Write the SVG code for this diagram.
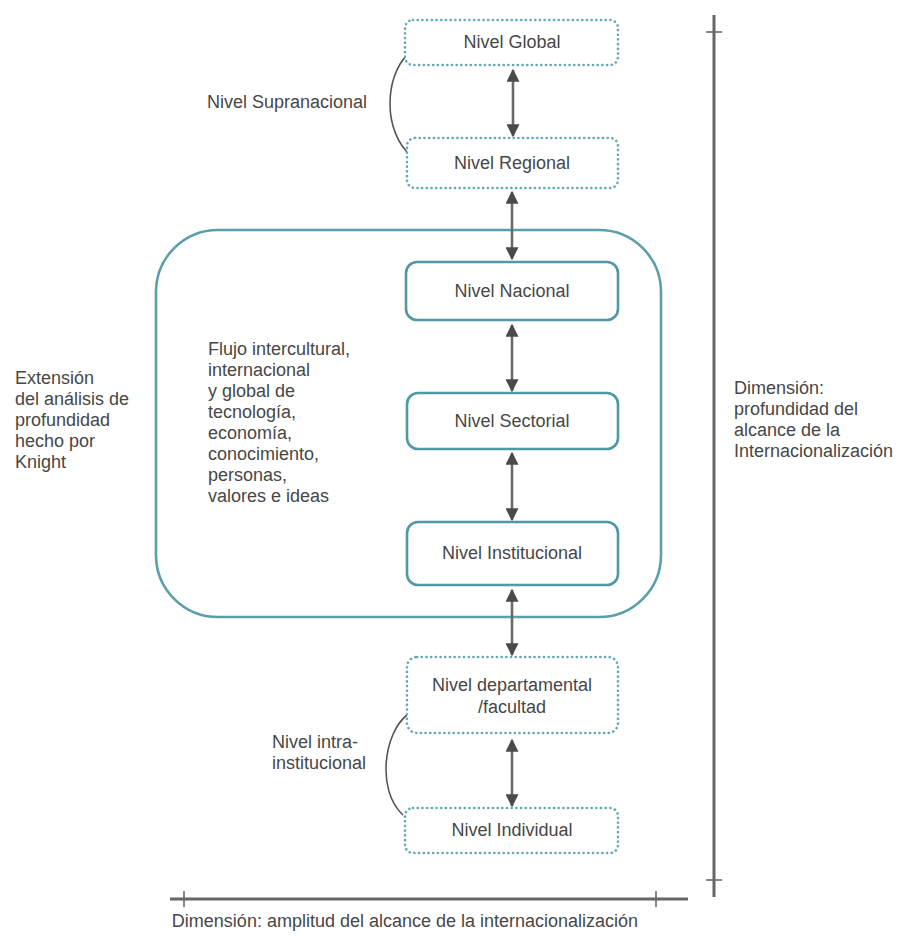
<svg xmlns="http://www.w3.org/2000/svg" width="901" height="936" viewBox="0 0 901 936">
<defs>
<marker id="ah" viewBox="0 0 10 10" refX="9" refY="5" markerUnits="userSpaceOnUse" markerWidth="13" markerHeight="13" orient="auto-start-reverse">
<path d="M0,0 L10,5 L0,10 z" fill="#4a4a4a"/>
</marker>
<style>
text{font-family:"Liberation Sans",Arial,sans-serif;font-size:18px;fill:#474747}
.c{text-anchor:middle;dominant-baseline:central}
.l{dominant-baseline:central}
.dot{fill:#fff;stroke:#62a9b3;stroke-width:2.6;stroke-dasharray:0.1 4.6;stroke-linecap:round}
.sol{fill:#fff;stroke:#4f98a5;stroke-width:2.6}
.arr{stroke:#6a6a6a;stroke-width:2.6;fill:none;marker-start:url(#ah);marker-end:url(#ah)}
.brace{stroke:#555;stroke-width:1.6;fill:none}
.axis{stroke:#666;stroke-width:3;fill:none}
.tick{stroke:#666;stroke-width:1.6;fill:none}
</style>
</defs>
<rect width="901" height="936" fill="#fff"/>

<g id="frame">
<rect x="156" y="230" width="505" height="387" rx="62" ry="62" fill="none" stroke="#5a9fab" stroke-width="2.6"/>
</g>

<g id="connectors">
<line class="arr" x1="513" y1="70" x2="513" y2="136"/>
<line class="arr" x1="512" y1="192" x2="512" y2="259"/>
<line class="arr" x1="512" y1="325" x2="512" y2="391"/>
<line class="arr" x1="512" y1="453" x2="512" y2="520"/>
<line class="arr" x1="512" y1="590" x2="512" y2="655"/>
<line class="arr" x1="512" y1="740" x2="512" y2="806"/>
<path class="brace" d="M411,52 C388,68 380,122 407,152"/>
<path class="brace" d="M407,715 C384,733 376,790 403,815"/>
</g>

<g id="global"><rect class="dot" x="405" y="20" width="213" height="45" rx="8"/><text class="c" x="512" y="42">Nivel Global</text></g>
<g id="regional"><rect class="dot" x="407" y="138" width="211" height="50" rx="8"/><text class="c" x="512" y="163">Nivel Regional</text></g>
<g id="nacional"><rect class="sol" x="406" y="262" width="212" height="58" rx="11"/><text class="c" x="512" y="291">Nivel Nacional</text></g>
<g id="sectorial"><rect class="sol" x="407" y="393" width="211" height="56" rx="11"/><text class="c" x="512" y="421">Nivel Sectorial</text></g>
<g id="institucional"><rect class="sol" x="407" y="522" width="211" height="63" rx="11"/><text class="c" x="512" y="553">Nivel Institucional</text></g>
<g id="departamental"><rect class="dot" x="407" y="657" width="211" height="76" rx="10"/><text class="c" x="512" y="685">Nivel departamental</text><text class="c" x="512" y="707">/facultad</text></g>
<g id="individual"><rect class="dot" x="405" y="808" width="213" height="45" rx="8"/><text class="c" x="512" y="830">Nivel Individual</text></g>

<g id="label-supranacional"><text class="l" x="207" y="102">Nivel Supranacional</text></g>
<g id="label-intra"><text class="l" x="272" y="742">Nivel intra-</text><text class="l" x="272" y="763">institucional</text></g>

<g id="label-flujo">
<text class="l" x="208" y="349">Flujo intercultural,</text>
<text class="l" x="208" y="370">internacional</text>
<text class="l" x="208" y="391">y global de</text>
<text class="l" x="208" y="412">tecnología,</text>
<text class="l" x="208" y="433">economía,</text>
<text class="l" x="208" y="454">conocimiento,</text>
<text class="l" x="208" y="475">personas,</text>
<text class="l" x="208" y="496">valores e ideas</text>
</g>

<g id="label-extension">
<text class="l" x="15" y="378">Extensión</text>
<text class="l" x="15" y="399">del análisis de</text>
<text class="l" x="15" y="420">profundidad</text>
<text class="l" x="15" y="441">hecho por</text>
<text class="l" x="15" y="462">Knight</text>
</g>

<g id="axis-vertical">
<line class="axis" x1="714" y1="15" x2="714" y2="897"/>
<line class="tick" x1="706" y1="32" x2="722" y2="32"/>
<line class="tick" x1="706" y1="880" x2="722" y2="880"/>
<text class="l" x="734" y="388">Dimensión:</text>
<text class="l" x="734" y="409">profundidad del</text>
<text class="l" x="734" y="430">alcance de la</text>
<text class="l" x="734" y="451">Internacionalización</text>
</g>

<g id="axis-horizontal">
<line class="axis" x1="170" y1="899" x2="688" y2="899"/>
<line class="tick" x1="184" y1="891" x2="184" y2="907"/>
<line class="tick" x1="656" y1="891" x2="656" y2="907"/>
<text class="c" x="405" y="921">Dimensión: amplitud del alcance de la internacionalización</text>
</g>
</svg>
